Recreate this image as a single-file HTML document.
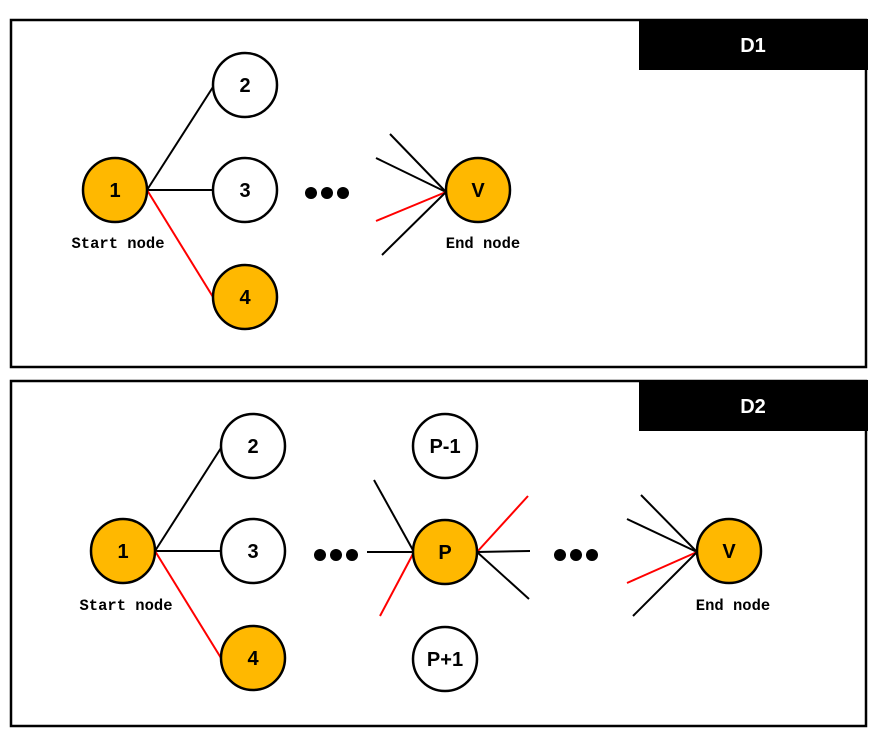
<!DOCTYPE html>
<html><head><meta charset="utf-8"><style>
html,body{margin:0;padding:0;background:#fff;width:879px;height:740px;overflow:hidden}
text{font-family:"Liberation Sans",sans-serif;font-weight:bold}
.n{font-size:20px}
.lbl{font-family:"Liberation Mono",monospace;font-size:15.5px}
</style></head><body>
<svg width="879" height="740" viewBox="0 0 879 740" xmlns="http://www.w3.org/2000/svg">
<g fill="none" stroke="#000" stroke-width="2.5">
<rect x="11" y="20" width="855" height="347"/>
<rect x="11" y="381" width="855" height="345"/>
</g>
<rect x="639" y="19" width="229" height="51" fill="#000"/>
<rect x="639" y="380" width="229" height="51" fill="#000"/>
<text x="753" y="52" fill="#fff" font-size="20" text-anchor="middle">D1</text>
<text x="753" y="413" fill="#fff" font-size="20" text-anchor="middle">D2</text>

<g stroke-width="2">
<line x1="147" y1="190" x2="213" y2="87" stroke="#000"/>
<line x1="147" y1="190" x2="213" y2="190" stroke="#000"/>
<line x1="147" y1="190" x2="213" y2="297" stroke="red"/>
<line x1="390" y1="134" x2="446" y2="192" stroke="#000"/>
<line x1="376" y1="158" x2="446" y2="192" stroke="#000"/>
<line x1="376" y1="221" x2="446" y2="192" stroke="red"/>
<line x1="382" y1="255" x2="446" y2="192" stroke="#000"/>
</g>
<g stroke="#000" stroke-width="2.5">
<circle cx="115" cy="190" r="32" fill="#FFB800"/>
<circle cx="245" cy="85" r="32" fill="#fff"/>
<circle cx="245" cy="190" r="32" fill="#fff"/>
<circle cx="245" cy="297" r="32" fill="#FFB800"/>
<circle cx="478" cy="190" r="32" fill="#FFB800"/>
</g>
<g fill="#000"><circle cx="311" cy="193" r="6"/><circle cx="327" cy="193" r="6"/><circle cx="343" cy="193" r="6"/></g>
<g class="n" text-anchor="middle">
<text x="115" y="197">1</text><text x="245" y="92">2</text><text x="245" y="197">3</text><text x="245" y="304">4</text><text x="478" y="197">V</text>
</g>
<text class="lbl" x="118" y="248" text-anchor="middle">Start node</text>
<text class="lbl" x="483" y="248" text-anchor="middle">End node</text>

<g stroke-width="2">
<line x1="155" y1="551" x2="221" y2="448" stroke="#000"/>
<line x1="155" y1="551" x2="221" y2="551" stroke="#000"/>
<line x1="155" y1="551" x2="221" y2="658" stroke="red"/>
<line x1="374" y1="480" x2="414" y2="552" stroke="#000"/>
<line x1="367" y1="552" x2="414" y2="552" stroke="#000"/>
<line x1="380" y1="616" x2="414" y2="552" stroke="red"/>
<line x1="477" y1="552" x2="528" y2="496" stroke="red"/>
<line x1="477" y1="552" x2="530" y2="551" stroke="#000"/>
<line x1="477" y1="552" x2="529" y2="599" stroke="#000"/>
<line x1="641" y1="495" x2="697" y2="552" stroke="#000"/>
<line x1="627" y1="519" x2="697" y2="552" stroke="#000"/>
<line x1="627" y1="583" x2="697" y2="552" stroke="red"/>
<line x1="633" y1="616" x2="697" y2="552" stroke="#000"/>
</g>
<g stroke="#000" stroke-width="2.5">
<circle cx="123" cy="551" r="32" fill="#FFB800"/>
<circle cx="253" cy="446" r="32" fill="#fff"/>
<circle cx="253" cy="551" r="32" fill="#fff"/>
<circle cx="253" cy="658" r="32" fill="#FFB800"/>
<circle cx="445" cy="446" r="32" fill="#fff"/>
<circle cx="445" cy="552" r="32" fill="#FFB800"/>
<circle cx="445" cy="659" r="32" fill="#fff"/>
<circle cx="729" cy="551" r="32" fill="#FFB800"/>
</g>
<g fill="#000"><circle cx="320" cy="555" r="6"/><circle cx="336" cy="555" r="6"/><circle cx="352" cy="555" r="6"/>
<circle cx="560" cy="555" r="6"/><circle cx="576" cy="555" r="6"/><circle cx="592" cy="555" r="6"/></g>
<g class="n" text-anchor="middle">
<text x="123" y="558">1</text><text x="253" y="453">2</text><text x="253" y="558">3</text><text x="253" y="665">4</text>
<text x="445" y="453">P-1</text><text x="445" y="559">P</text><text x="445" y="666">P+1</text><text x="729" y="558">V</text>
</g>
<text class="lbl" x="126" y="610" text-anchor="middle">Start node</text>
<text class="lbl" x="733" y="610" text-anchor="middle">End node</text>
</svg>
</body></html>
